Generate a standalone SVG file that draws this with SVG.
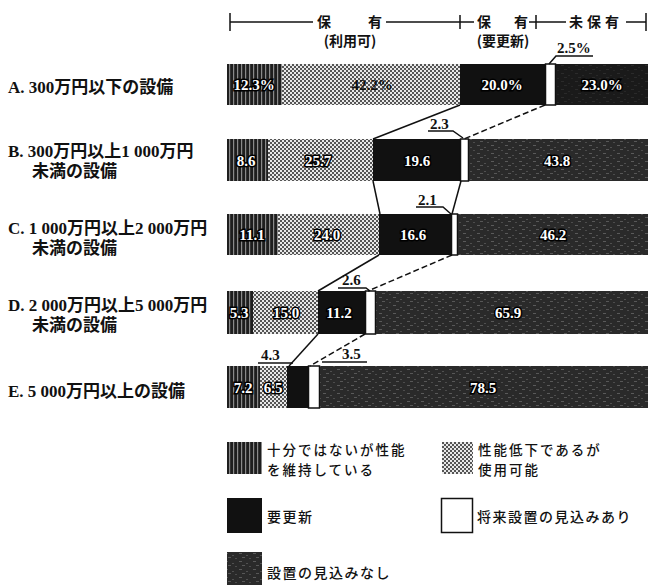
<svg xmlns="http://www.w3.org/2000/svg" width="650" height="586" viewBox="0 0 650 586">
<style>
.lbl{font-family:"Liberation Serif","Noto Sans CJK JP",serif;font-weight:bold;font-size:17px;fill:#111}
.hdr{font-family:"Noto Sans CJK JP","Noto Sans",sans-serif;font-weight:bold;font-size:14px;fill:#111}
.leg{font-family:"Noto Sans CJK JP","Noto Sans",sans-serif;font-weight:500;font-size:14px;letter-spacing:1.5px;fill:#111}
.leg2{font-family:"Noto Sans CJK JP","Noto Sans",sans-serif;font-weight:500;font-size:13.5px;letter-spacing:2px;fill:#111}
.val{font-family:"Liberation Serif",serif;font-weight:bold;font-size:15px;fill:#fff;stroke:#000;stroke-width:3;paint-order:stroke;text-anchor:middle}
.num{font-family:"Liberation Serif",serif;font-weight:bold;font-size:15px;fill:#111}
.s1{fill:url(#stripe)}
.s2{fill:url(#check)}
.s3{fill:#111}
.s4{fill:#fff;stroke:#111;stroke-width:1.5}
.s5{fill:url(#dark)}
.ln{stroke:#111;stroke-width:1.5;fill:none}
.dl{stroke:#111;stroke-width:1.5;fill:none;stroke-dasharray:6 3}
</style>
<defs>
<pattern id="stripe" width="4" height="6" patternUnits="userSpaceOnUse">
<rect width="4" height="6" fill="#1e1e1e"/>
<rect x="1" width="1.2" height="6" fill="#8a8a8a"/>
</pattern>
<pattern id="check" width="4" height="4" patternUnits="userSpaceOnUse">
<rect width="4" height="4" fill="#e8e8e8"/>
<rect width="2" height="2" fill="#555"/>
<rect x="2" y="2" width="2" height="2" fill="#555"/>
</pattern>
<pattern id="dark" width="14" height="8" patternUnits="userSpaceOnUse">
<rect width="14" height="8" fill="#2a2a2a"/>
<rect x="1" y="1" width="3" height="1" fill="#5a5a5a"/>
<rect x="8" y="3" width="2" height="1" fill="#505050"/>
<rect x="4" y="5" width="3" height="1" fill="#575757"/>
<rect x="11" y="6" width="2" height="1" fill="#4c4c4c"/>
</pattern>
</defs>

<g id="header">
<g class="ln">
<line x1="230" y1="22" x2="313" y2="22"/>
<line x1="386" y1="22" x2="474" y2="22"/>
<line x1="529" y1="22" x2="566" y2="22"/>
<line x1="626" y1="22" x2="646" y2="22"/>
<line x1="230" y1="13" x2="230" y2="31"/>
<line x1="460" y1="15" x2="460" y2="29"/>
<line x1="536" y1="15" x2="536" y2="29"/>
<line x1="646" y1="13" x2="646" y2="31"/>
</g>
<text class="hdr" x="317" y="27">保</text>
<text class="hdr" x="368" y="27">有</text>
<text class="hdr" x="350" y="46" text-anchor="middle">(利用可)</text>
<text class="hdr" x="477" y="27">保</text>
<text class="hdr" x="514" y="27">有</text>
<text class="hdr" x="503" y="46" text-anchor="middle">(要更新)</text>
<text class="hdr" x="569" y="27" letter-spacing="4">未保有</text>
</g>

<g id="rowA">
<text class="lbl" x="8" y="93">A. 300万円以下の設備</text>
<rect class="s1" x="227" y="64" width="55" height="41"/>
<rect class="s2" x="282" y="64" width="178" height="41"/>
<rect class="s3" x="460" y="64" width="85" height="41"/>
<rect class="s4" x="545.5" y="64" width="10" height="41"/>
<rect class="s3" x="556" y="64" width="92" height="41"/>
<rect x="556" y="64" width="92" height="41" fill="url(#dark)" opacity="0.35"/>
<text class="val" x="254" y="90">12.3%</text>
<text class="num" x="372" y="90" text-anchor="middle">42.2%</text>
<text class="val" x="502" y="90">20.0%</text>
<text class="val" x="602" y="90">23.0%</text>
</g>

<g id="rowB">
<text class="lbl" x="8" y="157">B. 300万円以上1 000万円</text>
<text class="lbl" x="32" y="177">未満の設備</text>
<rect class="s1" x="227" y="139" width="41" height="42"/>
<rect class="s2" x="268" y="139" width="105" height="42"/>
<rect class="s3" x="373" y="139" width="87" height="42"/>
<rect class="s4" x="460.5" y="139" width="8" height="42"/>
<rect class="s5" x="469" y="139" width="179" height="42"/>
<text class="val" x="246" y="166">8.6</text>
<text class="val" x="318" y="166">25.7</text>
<text class="val" x="417" y="166">19.6</text>
<text class="val" x="557" y="166">43.8</text>
</g>

<g id="rowC">
<text class="lbl" x="8" y="234">C. 1 000万円以上2 000万円</text>
<text class="lbl" x="32" y="254">未満の設備</text>
<rect class="s1" x="227" y="214" width="51" height="41"/>
<rect class="s2" x="278" y="214" width="101" height="41"/>
<rect class="s3" x="379" y="214" width="72" height="41"/>
<rect class="s4" x="451.5" y="214" width="6" height="41"/>
<rect class="s5" x="458" y="214" width="190" height="41"/>
<text class="val" x="252" y="240">11.1</text>
<text class="val" x="327" y="240">24.0</text>
<text class="val" x="413" y="240">16.6</text>
<text class="val" x="553" y="240">46.2</text>
</g>

<g id="rowD">
<text class="lbl" x="8" y="311">D. 2 000万円以上5 000万円</text>
<text class="lbl" x="32" y="331">未満の設備</text>
<rect class="s1" x="227" y="291" width="26" height="43"/>
<rect class="s2" x="253" y="291" width="65" height="43"/>
<rect class="s3" x="318" y="291" width="47" height="43"/>
<rect class="s4" x="365.5" y="291" width="10" height="43"/>
<rect class="s5" x="376" y="291" width="272" height="43"/>
<text class="val" x="239" y="318">5.3</text>
<text class="val" x="286" y="318">15.0</text>
<text class="val" x="339" y="318">11.2</text>
<text class="val" x="508" y="318">65.9</text>
</g>

<g id="rowE">
<text class="lbl" x="8" y="397">E. 5 000万円以上の設備</text>
<rect class="s1" x="227" y="366" width="33" height="42"/>
<rect class="s2" x="260" y="366" width="27" height="42"/>
<rect class="s3" x="287" y="366" width="21" height="42"/>
<rect class="s4" x="308.5" y="366" width="11" height="42"/>
<rect class="s5" x="320" y="366" width="328" height="42"/>
<text class="val" x="243" y="393">7.2</text>
<text class="val" x="273" y="393">6.5</text>
<text class="val" x="483" y="393">78.5</text>
</g>

<g id="connectors">
<line class="ln" x1="460" y1="105" x2="373" y2="139"/>
<line class="dl" x1="545" y1="105" x2="464" y2="139"/>
<line class="ln" x1="373" y1="181" x2="380" y2="214"/>
<line class="ln" x1="461" y1="181" x2="452" y2="214"/>
<line class="ln" x1="379" y1="255" x2="318" y2="291"/>
<line class="dl" x1="452" y1="255" x2="368" y2="291"/>
<line class="ln" x1="318" y1="334" x2="289" y2="366"/>
<line class="dl" x1="365" y1="334" x2="310" y2="366"/>
</g>

<g id="small-labels">
<text class="num" x="557" y="53">2.5%</text>
<polyline class="ln" points="593,56 556,56 549,64"/>
<text class="num" x="430" y="129">2.3</text>
<polyline class="ln" points="428,131 453,131 463,138"/>
<text class="num" x="418" y="205">2.1</text>
<polyline class="ln" points="416,207 443,207 451,214"/>
<text class="num" x="342" y="285">2.6</text>
<polyline class="ln" points="338,288 366,288 370,291"/>
<text class="num" x="261" y="360">4.3</text>
<polyline class="ln" points="258,363 293,363"/>
<text class="num" x="342" y="359">3.5</text>
<polyline class="ln" points="322,362 367,362"/>
</g>

<g id="legend">
<rect class="s1" x="227" y="442" width="35" height="32"/>
<text class="leg2" x="267" y="455">十分ではないが性能</text>
<text class="leg2" x="267" y="475">を維持している</text>
<rect class="s2" x="442" y="442" width="31" height="32"/>
<text class="leg2" x="478" y="455">性能低下であるが</text>
<text class="leg2" x="478" y="475">使用可能</text>
<rect class="s3" x="227" y="498" width="35" height="35"/>
<text class="leg" x="267" y="522">要更新</text>
<rect class="s4" x="441.5" y="498.5" width="31" height="34"/>
<text class="leg" x="477" y="522" letter-spacing="3">将来設置の見込みあり</text>
<rect class="s5" x="227" y="552" width="35" height="33"/>
<text class="leg" x="267" y="578">設置の見込みなし</text>
</g>
</svg>
